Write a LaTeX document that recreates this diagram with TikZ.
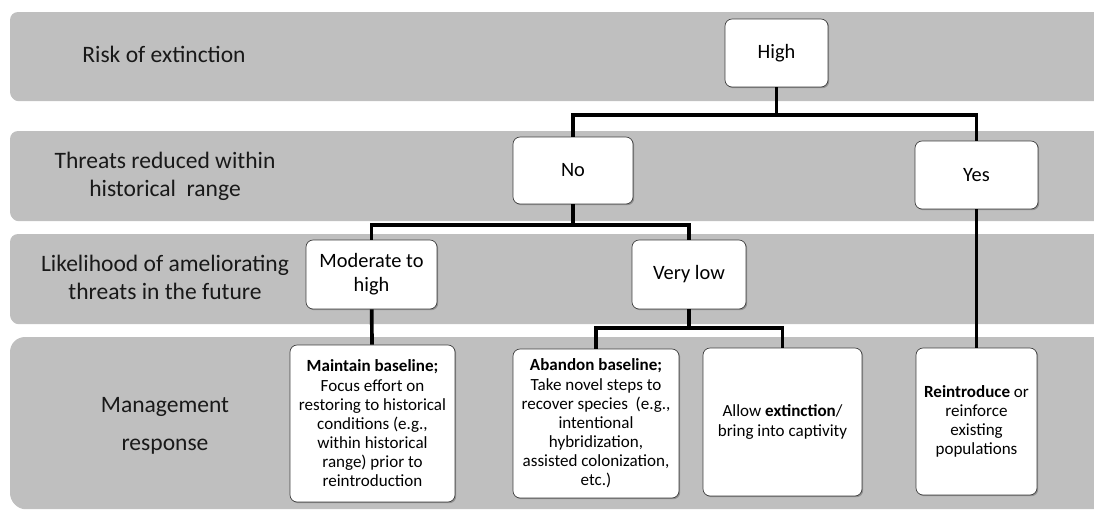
\documentclass[tikz,border=0pt]{standalone}
\usepackage{fontspec}
\setmainfont{Carlito}
\usetikzlibrary{shadows, positioning}

\begin{document}
\begin{tikzpicture}[
  x=0.02cm, y=-0.02cm,
  band/.style={fill=black!25, rounded corners=0.16cm,
    drop shadow={shadow xshift=0.5pt, shadow yshift=-0.7pt, opacity=0.35, fill=black!70}},
  rowlabel/.style={align=center, text=black!90, font={\fontsize{13.4}{16}\selectfont}},
  choice/.style={draw=black!75, fill=white, rounded corners=4pt, align=center, inner sep=0pt,
    font={\fontsize{11.6}{13.8}\selectfont},
    drop shadow={shadow xshift=0.7pt, shadow yshift=-0.7pt, opacity=0.4, fill=black!70}},
  action/.style={choice, font={\fontsize{9.7}{10.9}\selectfont}},
  link/.style={line width=2.1pt, black}
]
\clip (0,0) rectangle (1094,511);

\path[band] (10,12) rectangle (1120,100);
\path[band] (10,131) rectangle (1120,220);
\path[band] (10,234) rectangle (1120,323);
\path[band, rounded corners=0.3cm] (10,337) rectangle (1120,508);

\node[rowlabel] (lrisk) at (164,54) {Risk of extinction};
\node[rowlabel] (lthreat) at (165,176) {Threats reduced within\\historical~ range};
\node[rowlabel] (llikely) at (165,277) {Likelihood of ameliorating\\threats in the future};
\node[rowlabel, font={\fontsize{13.4}{21.6}\selectfont}] (lmanage) at (165,426) {Management\\response};

\node[choice, minimum width=2.06cm, minimum height=1.36cm] (high) at (776.5,53) {High};
\node[choice, minimum width=2.4cm, minimum height=1.34cm] (no) at (573,170.5) {No};
\node[choice, minimum width=2.46cm, minimum height=1.36cm] (yes) at (976.5,175) {Yes};
\node[choice, minimum width=2.62cm, minimum height=1.38cm] (moderate) at (371.5,274.5) {Moderate to\\high};
\node[choice, minimum width=2.28cm, minimum height=1.38cm] (verylow) at (689,274.5) {Very low};

\node[action, minimum width=3.3cm, minimum height=3.14cm] (maintain) at (372.5,423.5)
  {\textbf{Maintain baseline;}\\Focus effort on\\restoring to historical\\conditions (e.g.,\\within historical\\range) prior to\\reintroduction};
\node[action, minimum width=3.32cm, minimum height=2.98cm] (abandon) at (596,423.5)
  {\textbf{Abandon baseline;}\\Take novel steps to\\recover species~ (e.g.,\\intentional\\hybridization,\\assisted colonization,\\etc.)};
\node[action, minimum width=3.18cm, minimum height=2.96cm] (allow) at (782.5,422)
  {Allow \textbf{extinction}/\\bring into captivity};
\node[action, minimum width=2.42cm, minimum height=2.94cm] (reintro) at (976.5,421.5)
  {\textbf{Reintroduce} or\\reinforce\\existing\\populations};

\coordinate (jhigh) at (776.5,115);
\coordinate (jno) at (573,225);
\coordinate (jlow) at (689,328);

\draw[link] (high) -- (jhigh) -| (no);
\draw[link] (jhigh) -| (yes);
\draw[link] (no) -- (jno) -| (moderate);
\draw[link] (jno) -| (verylow);
\draw[link] (moderate) -- (maintain);
\draw[link] (verylow) -- (jlow) -| (abandon);
\draw[link] (jlow) -| (allow);
\draw[link] (yes) -- (reintro);
\end{tikzpicture}
\end{document}
